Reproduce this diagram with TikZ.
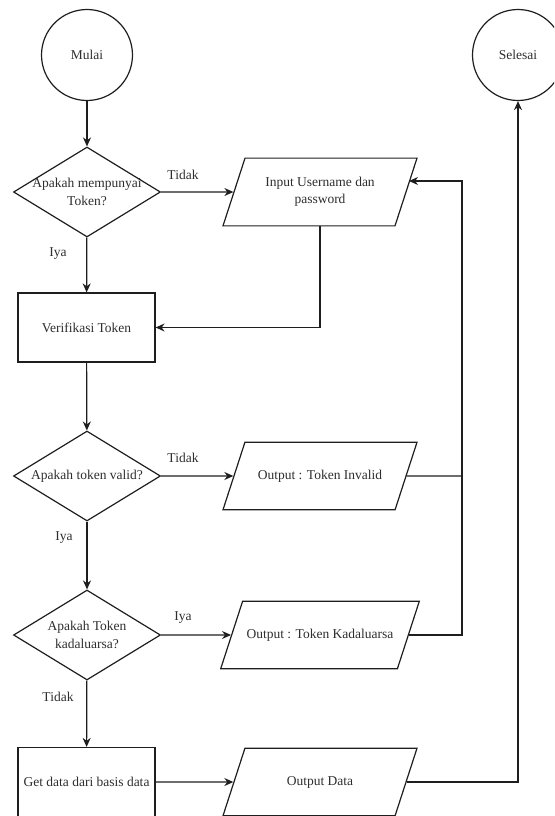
\documentclass[tikz,border=0pt]{standalone}
\usepackage{fontspec}
\setmainfont{Liberation Serif}
\usepackage{tikz}
\usetikzlibrary{shapes.geometric, arrows.meta, positioning}
\definecolor{flowline}{RGB}{30, 30, 30}
\definecolor{flowtext}{RGB}{45, 45, 45}

\begin{document}
\begin{tikzpicture}[
    x=1pt, y=-1pt,
    terminal/.style={circle, draw=flowline, line width=1.2pt, minimum size=91pt, inner sep=0pt, align=center, text=flowtext, font=\fontsize{13.5}{17.5}\selectfont},
    decision/.style={diamond, draw=flowline, line width=1.2pt, minimum width=147pt, minimum height=90pt, aspect=1.63, inner sep=-4pt, align=center, text=flowtext, font=\fontsize{13.5}{17.5}\selectfont},
    process/.style={rectangle, draw=flowline, line width=1.2pt, minimum width=137pt, minimum height=69pt, align=center, text=flowtext, font=\fontsize{13.5}{17.5}\selectfont},
    io/.style={trapezium, trapezium left angle=72, trapezium right angle=108, trapezium stretches body, draw=flowline, line width=1.2pt, minimum width=194pt, inner xsep=4pt, inner ysep=27.5pt, text height=9.5pt, text depth=3pt, align=center, text=flowtext, font=\fontsize{13.5}{17.5}\selectfont},
    iotwo/.style={io, inner ysep=19pt, text height=, text depth=},
    lbl/.style={text=flowtext, inner sep=0pt, font=\fontsize{13.5}{17.5}\selectfont},
    arrow/.style={-{Stealth[length=9pt, width=8pt]}, draw=flowline, line width=1.2pt},
    link/.style={draw=flowline, line width=1.2pt}
]
    \useasboundingbox (0,0) rectangle (554,816);
    \clip (0,0) rectangle (554,816);

    % Start / end
    \node[terminal] (mulai) at (87, 55) {Mulai};
    \node[terminal] (selesai) at (518, 55) {Selesai};

    % Main column
    \node[decision] (punya) at (87, 192) {Apakah mempunyai\\Token?};
    \node[process] (verif) at (86.5, 327.5) {Verifikasi Token};
    \node[decision] (valid) at (87, 476) {Apakah token valid?};
    \node[decision] (kadal) at (87, 635) {Apakah Token\\kadaluarsa?};
    \node[process] (getdata) at (86.5, 782) {Get data dari basis data};

    % Input / output
    \node[iotwo] (input) at (320, 192) {Input Username dan\\password};
    \node[io] (invalid) at (320, 476) {Output : Token Invalid};
    \node[io] (expired) at (320, 635) {Output : Token Kadaluarsa};
    \node[io] (outdata) at (320, 782) {Output Data};

    % Branch labels
    \node[lbl] (tidak1) at (183, 175) {Tidak};
    \node[lbl] (iya1) at (58, 254) {Iya};
    \node[lbl] (tidak2) at (183, 458) {Tidak};
    \node[lbl] (iya2) at (64, 538) {Iya};
    \node[lbl] (iya3) at (183, 618) {Iya};
    \node[lbl] (tidak3) at (58, 697) {Tidak};

    % Loop back points
    \coordinate (loopup) at (462, 181);
    \coordinate (inback) at (409, 181);

    \draw[arrow] (mulai) -- (punya);
    \draw[arrow] (punya) -- (input);
    \draw[arrow] (punya) -- (verif);
    \draw[arrow] (input) |- (verif);
    \draw[arrow] (verif) -- (valid);
    \draw[arrow] (valid) -- (invalid);
    \draw[arrow] (valid) -- (kadal);
    \draw[arrow] (kadal) -- (expired);
    \draw[arrow] (kadal) -- (getdata);
    \draw[arrow] (getdata) -- (outdata);
    \draw[arrow] (outdata) -| (selesai);

    \draw[link] (invalid) -- (invalid -| loopup);
    \draw[arrow] (expired) -| (loopup) -- (inback);

\end{tikzpicture}
\end{document}
